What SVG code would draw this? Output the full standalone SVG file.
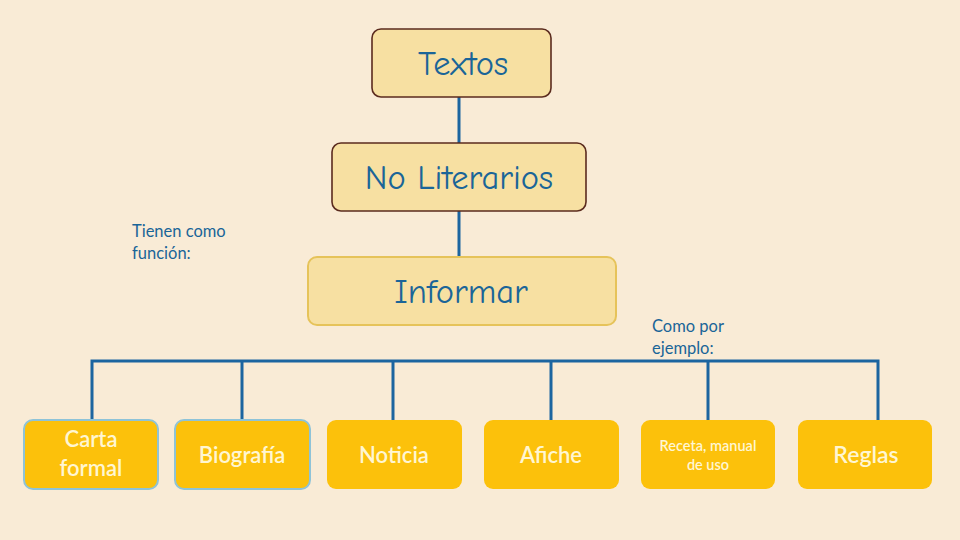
<svg xmlns="http://www.w3.org/2000/svg" width="960" height="540" viewBox="0 0 960 540">
<style>
.top{fill:#f7e0a2;stroke:#5b2b1e;stroke-width:1.6}
.mid{fill:#f7e0a2;stroke:#e6c35a;stroke-width:2}
.leaf{fill:#fcc10b}
.leafb{fill:#fcc10b;stroke:#8ec3d8;stroke-width:2}
.tt{font-family:"Comic Neue","DejaVu Sans",sans-serif;fill:#1a6598;text-anchor:middle;font-size:34.5px}
.lt{font-family:Lato,"Open Sans",sans-serif;fill:#fff6d2;text-anchor:middle;font-weight:600}
.note{font-family:Lato,"Open Sans",sans-serif;fill:#1a6598;font-size:16.5px}
.con{stroke:#1c65a0;stroke-width:3;fill:none}
</style>
<rect width="960" height="540" fill="#f9ebd6"/>
<g id="connectors">
<line class="con" x1="459" y1="97" x2="459" y2="143"/>
<line class="con" x1="459" y1="211" x2="459" y2="258"/>
<path class="con" d="M92 420 V361 H878 V420"/>
<line class="con" x1="242" y1="361" x2="242" y2="420"/>
<line class="con" x1="393" y1="361" x2="393" y2="420"/>
<line class="con" x1="551" y1="361" x2="551" y2="420"/>
<line class="con" x1="708" y1="361" x2="708" y2="420"/>
</g>
<g id="textos"><rect class="top" x="372" y="29" width="179" height="68" rx="9"/><text class="tt" x="463" y="75">Textos</text></g>
<g id="noliterarios"><rect class="top" x="332" y="143" width="254" height="68" rx="9"/><text class="tt" x="459" y="189">No Literarios</text></g>
<g id="informar"><rect class="mid" x="308" y="257" width="308" height="68" rx="9"/><text class="tt" x="461" y="303">Informar</text></g>
<g id="note1"><text class="note" x="132" y="237">Tienen como</text><text class="note" x="132" y="259">función:</text></g>
<g id="note2"><text class="note" x="652" y="332">Como por</text><text class="note" x="652" y="354">ejemplo:</text></g>
<g id="carta"><rect class="leafb" x="24" y="420" width="134" height="69" rx="9"/><text class="lt" x="91" y="447" font-size="22">Carta</text><text class="lt" x="91" y="476" font-size="22">formal</text></g>
<g id="biografia"><rect class="leafb" x="175" y="420" width="135" height="69" rx="9"/><text class="lt" x="242" y="463" font-size="22">Biografía</text></g>
<g id="noticia"><rect class="leaf" x="327" y="420" width="135" height="69" rx="9"/><text class="lt" x="394" y="463" font-size="22">Noticia</text></g>
<g id="afiche"><rect class="leaf" x="484" y="420" width="135" height="69" rx="9"/><text class="lt" x="551" y="463" font-size="22">Afiche</text></g>
<g id="receta"><rect class="leaf" x="641" y="420" width="134" height="69" rx="9"/><text class="lt" x="708" y="451" font-size="14.5">Receta, manual</text><text class="lt" x="708" y="470" font-size="14.5">de uso</text></g>
<g id="reglas"><rect class="leaf" x="798" y="420" width="134" height="69" rx="9"/><text class="lt" x="866" y="463" font-size="23">Reglas</text></g>
</svg>
